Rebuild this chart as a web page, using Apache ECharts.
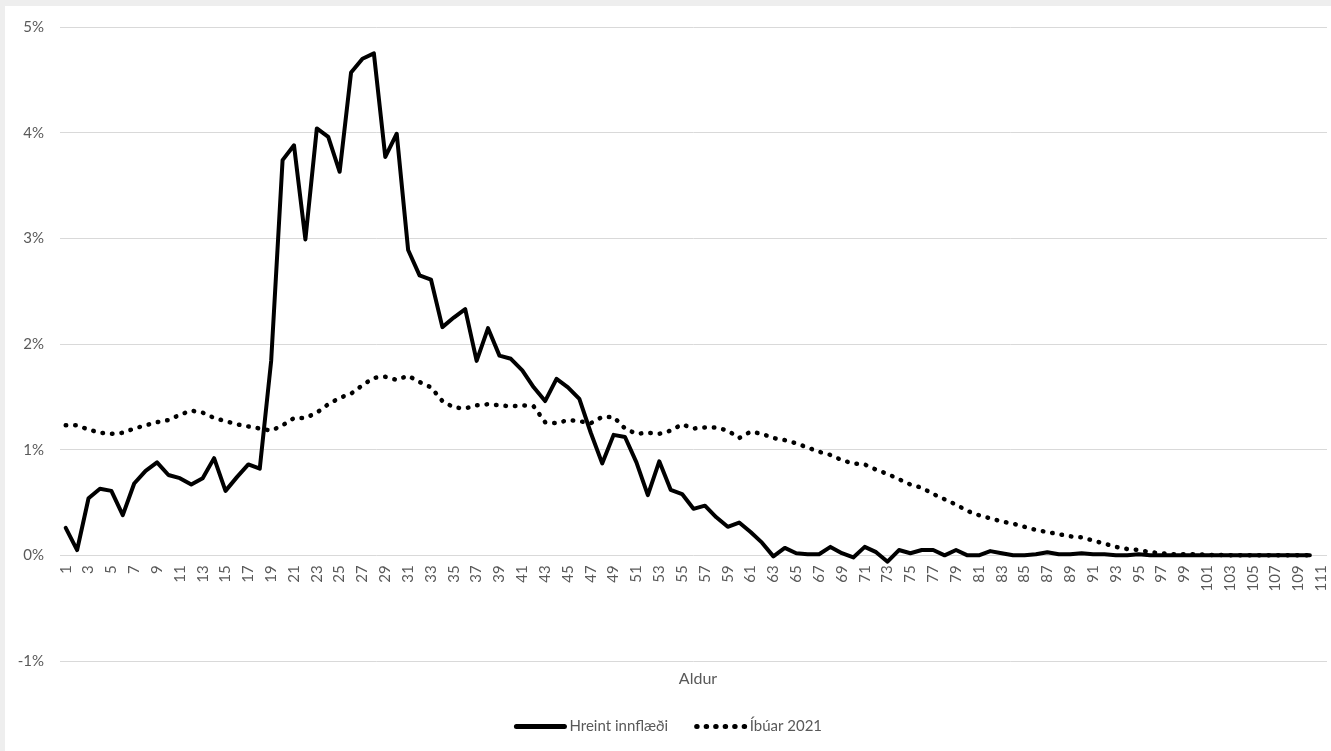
<!DOCTYPE html>
<html>
<head>
<meta charset="utf-8">
<script src="https://cdn.jsdelivr.net/npm/echarts@6/dist/echarts.min.js"></script>
<style>
  html, body { margin: 0; padding: 0; background: #eeeeee; width: 1331px; height: 751px; overflow: hidden; }
  #chart { position: absolute; left: 5px; top: 6px; width: 1326px; height: 745px; background: #ffffff; }
</style>
</head>
<body>
<div id="chart"></div>
<script>
// Categories: age 1..111
const ages = [];
for (let a = 1; a <= 111; a++) ages.push(String(a));

// Y tick values (percent)
const yTicks = [-1, 0, 1, 2, 3, 4, 5];

// Hreint innflæði (net immigration share, %), ages 1..110
const hreint = [
  0.26, 0.05, 0.54, 0.63, 0.61, 0.38, 0.68, 0.80, 0.88, 0.76,
  0.73, 0.67, 0.73, 0.92, 0.61, 0.74, 0.86, 0.82, 1.84, 3.74,
  3.88, 2.99, 4.04, 3.96, 3.63, 4.57, 4.70, 4.75, 3.77, 3.99,
  2.89, 2.65, 2.61, 2.16, 2.25, 2.33, 1.84, 2.15, 1.89, 1.86,
  1.75, 1.59, 1.46, 1.67, 1.59, 1.48, 1.16, 0.87, 1.14, 1.12,
  0.88, 0.57, 0.89, 0.62, 0.58, 0.44, 0.47, 0.36, 0.27, 0.31,
  0.22, 0.12, -0.01, 0.07, 0.02, 0.01, 0.01, 0.08, 0.02, -0.02,
  0.08, 0.03, -0.06, 0.05, 0.02, 0.05, 0.05, 0.00, 0.05, 0.00,
  0.00, 0.04, 0.02, 0.00, 0.00, 0.01, 0.03, 0.01, 0.01, 0.02,
  0.01, 0.01, 0.00, 0.00, 0.01, 0.00, 0.00, 0.00, 0.00, 0.00,
  0.00, 0.00, 0.00, 0.00, 0.00, 0.00, 0.00, 0.00, 0.00, 0.00
];

// Íbúar 2021 (population share, %), ages 1..110
const ibuar = [
  1.23, 1.23, 1.19, 1.16, 1.15, 1.16, 1.20, 1.23, 1.26, 1.28,
  1.33, 1.37, 1.35, 1.30, 1.27, 1.24, 1.22, 1.20, 1.18, 1.23,
  1.30, 1.30, 1.35, 1.43, 1.49, 1.53, 1.61, 1.68, 1.69, 1.66,
  1.70, 1.64, 1.59, 1.46, 1.40, 1.39, 1.42, 1.43, 1.42, 1.41,
  1.42, 1.41, 1.26, 1.25, 1.28, 1.27, 1.25, 1.31, 1.31, 1.20,
  1.15, 1.16, 1.15, 1.18, 1.24, 1.20, 1.21, 1.21, 1.18, 1.11,
  1.17, 1.15, 1.11, 1.09, 1.06, 1.02, 0.98, 0.95, 0.90, 0.87,
  0.86, 0.81, 0.77, 0.72, 0.67, 0.64, 0.58, 0.53, 0.48, 0.42,
  0.38, 0.35, 0.32, 0.30, 0.27, 0.24, 0.22, 0.20, 0.18, 0.17,
  0.14, 0.11, 0.08, 0.06, 0.05, 0.03, 0.02, 0.01, 0.01, 0.01,
  0.005, 0.003, 0.002, 0.001, 0.001, 0.0, 0.0, 0.0, 0.0, 0.0
];

const FONT = 'Lato, "Open Sans", sans-serif';
const TXT = '#595959';
const GRIDC = '#d9d9d9';

const GRID_TOP = 21, GRID_BOTTOM = 90, CHART_H = 745;
const plotH = CHART_H - GRID_TOP - GRID_BOTTOM;
const yMin = yTicks[0], yMax = yTicks[yTicks.length - 1];
// shift the category axis up so it sits on the 0% line
const zeroOffset = -plotH * (0 - yMin) / (yMax - yMin);

const chart = echarts.init(document.getElementById('chart'), null, { renderer: 'canvas' });
chart.setOption({
  animation: false,
  backgroundColor: '#ffffff',
  textStyle: { fontFamily: FONT },
  grid: { left: 55, right: 4, top: GRID_TOP, bottom: GRID_BOTTOM, containLabel: false },
  title: {
    text: 'Aldur',
    left: 688, top: 660,
    textAlign: 'center',
    textStyle: { fontFamily: FONT, fontSize: 16, fontWeight: 'normal', color: TXT }
  },
  legend: {
    bottom: 12,
    left: 'center',
    itemWidth: 48,
    itemHeight: 14,
    itemGap: 26,
    itemStyle: { opacity: 0 },
    lineStyle: { width: 5 },
    textStyle: { fontFamily: FONT, fontSize: 15, color: TXT },
    data: ['Hreint innflæði', 'Íbúar 2021']
  },
  xAxis: {
    type: 'category',
    data: ages,
    boundaryGap: true,
    offset: zeroOffset,
    axisLine: { show: false, onZero: false },
    axisTick: { show: false },
    axisLabel: { interval: 1, rotate: 90, margin: 10, color: TXT, fontSize: 15, fontFamily: FONT },
    splitLine: { show: false }
  },
  yAxis: {
    type: 'value',
    min: yMin,
    max: yMax,
    interval: 1,
    axisLine: { show: false },
    axisTick: { show: false },
    axisLabel: { formatter: '{value}%', color: TXT, fontSize: 15, margin: 16, fontFamily: FONT },
    splitLine: { lineStyle: { color: GRIDC, width: 1 } }
  },
  series: [
    {
      name: 'Hreint innflæði',
      type: 'line',
      data: hreint,
      symbol: 'none',
      itemStyle: { color: '#000000' },
      lineStyle: { color: '#000000', width: 4, join: 'round', cap: 'round' },
      z: 3
    },
    {
      name: 'Íbúar 2021',
      type: 'line',
      data: ibuar,
      symbol: 'none',
      itemStyle: { color: '#000000' },
      lineStyle: { color: '#000000', width: 4.5, type: [0.5, 9], cap: 'round', join: 'round' },
      z: 2
    }
  ]
});
</script>
</body>
</html>
